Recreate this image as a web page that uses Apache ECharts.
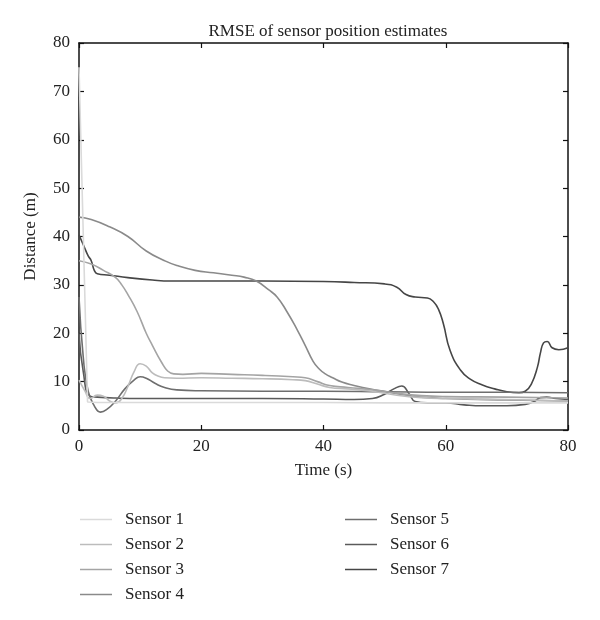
<!DOCTYPE html>
<html>
<head>
<meta charset="utf-8">
<script src="https://cdn.jsdelivr.net/npm/echarts@6/dist/echarts.min.js"></script>
<style>html,body{margin:0;padding:0;background:#fff;}#chart{width:600px;height:620px;}</style>
</head>
<body>
<div id="chart"></div>
<script>
const seriesNames = ['Sensor 1','Sensor 2','Sensor 3','Sensor 4','Sensor 5','Sensor 6','Sensor 7'];
const xTicks = [0, 20, 40, 60, 80];
const yTicks = [0, 10, 20, 30, 40, 50, 60, 70, 80];

const sensor1T = [0, 1.4, 3, 5, 10, 20, 30, 40, 50, 60, 70, 80];
const sensor1V = [75, 5.8, 5.7, 5.7, 5.7, 5.7, 5.7, 5.7, 5.6, 5.6, 5.6, 5.6];

const sensor2T = [0,1,1.8,3,4,5,6,7,8,9,10,11,12,13,14,16,20,25,30,35,37,39,41,44,48,52,56,60,70,80];
const sensor2V = [10.3,8,6.5,7.2,7,6,5.6,6.5,9,12,13.7,13.2,11.8,11.1,10.8,10.7,10.8,10.7,10.6,10.4,10.2,9.5,8.8,8.5,8,7.2,6.7,6.5,6.3,6.0];

const sensor3T = [0,2,4,6,7,8,9.5,11,12,13.5,14.5,15.5,17,20,25,30,35,37,39,41,44,48,52,56,60,70,80];
const sensor3V = [35,34.3,33,31.5,30,28,24.5,20,17.5,14,12.2,11.6,11.5,11.7,11.5,11.3,11,10.8,10,9.2,8.8,8.3,7.6,7.1,6.9,6.8,6.6];

const sensor4T = [0,2,5,8,11,14,16,19,22,25,27,29,31,32.4,34,35.7,37,38.3,39.3,40.3,41.5,43,45,47.5,50.4,53,56,60,70,80];
const sensor4V = [44,43.5,42,40,37,35,34,33,32.5,32,31.6,30.8,29,27.5,24.5,20.7,17.5,14.2,12.6,11.6,10.8,9.9,9.2,8.5,7.9,7.3,6.8,6.5,6.2,6.0];

const sensor5T = [0,0.7,1.5,2.5,3.5,4.5,6,7.5,9,10,11,12.5,14,16,20,30,40,50,60,70,80];
const sensor5V = [27.5,15,8,5,3.7,4.2,6,8.5,10.3,11,10.7,9.6,8.8,8.3,8.1,8,8,7.9,7.8,7.8,7.7];

const sensor6T = [0,0.7,1.8,3,6,10,20,30,40,45,48,50,51.5,52.8,54,55,57,60,63,66,70,73,74.5,75.5,76.5,78,80];
const sensor6V = [20,12,7,6.8,6.6,6.5,6.5,6.5,6.4,6.3,6.5,7.4,8.5,9.1,7.5,5.9,5.6,5.6,5.2,5,5,5.3,5.9,6.7,6.8,6.5,6.3];

const sensor7T = [0,0.8,1.5,2,2.5,3,5,8,12,15,20,30,40,45,50,52,53.5,55,57,58,58.8,59.6,60.7,62.4,64,66,68,70,72,73,74,75,75.5,76,76.6,77.4,78.5,80];
const sensor7V = [40.3,38,36,35,33,32.3,32,31.5,31,30.8,30.8,30.8,30.7,30.5,30.2,29.5,28,27.5,27.3,26.5,25,22,16.5,12.4,10.5,9.3,8.5,7.9,7.7,8,9.5,13,16,18,18.3,17,16.6,17];

const allT = [sensor1T, sensor2T, sensor3T, sensor4T, sensor5T, sensor6T, sensor7T];
const allV = [sensor1V, sensor2V, sensor3V, sensor4V, sensor5V, sensor6V, sensor7V];
const colors = ['#dadada', '#bcbcbc', '#a4a4a4', '#8a8a8a', '#6e6e6e', '#5a5a5a', '#464646'];

const FONT = '"Liberation Serif", "DejaVu Serif", serif';

const chart = echarts.init(document.getElementById('chart'), null, {renderer: 'canvas'});

const series = seriesNames.map((name, i) => ({
  name: name,
  type: 'line',
  xAxisIndex: 0,
  yAxisIndex: 0,
  symbol: 'none',
  showSymbol: false,
  smooth: i === 0 ? false : 0.5,
  lineStyle: {width: 1.6, color: colors[i]},
  itemStyle: {color: colors[i]},
  z: 10 - i,
  data: allT[i].map((t, k) => [t, allV[i][k]])
}));

const legendCommon = {
  orient: 'vertical',
  itemWidth: 32,
  itemHeight: 10,
  itemGap: 8,
  padding: 0,
  icon: 'path://M0,0 L32,0 L32,1.5 L0,1.5 Z',
  textStyle: {fontFamily: FONT, fontSize: 17, color: '#222', padding: [0, 0, 0, 8]},
  selectedMode: false
};

const axisLine = {show: true, onZero: false, lineStyle: {color: '#111', width: 1.5}};
const axisTickIn = {show: true, inside: true, length: 5, lineStyle: {color: '#111', width: 1.2}};

chart.setOption({
  animation: false,
  backgroundColor: '#fff',
  title: {
    text: 'RMSE of sensor position estimates',
    left: 323, top: 18, textAlign: 'center',
    textStyle: {fontFamily: FONT, fontSize: 17, fontWeight: 'normal', color: '#222'}
  },
  grid: {left: 79, right: 32, top: 43, bottom: 190, containLabel: false},
  legend: [
    Object.assign({left: 80, top: 511, data: seriesNames.slice(0, 4)}, legendCommon),
    Object.assign({left: 345, top: 511, data: seriesNames.slice(4)}, legendCommon)
  ],
  xAxis: [
    {
      type: 'value', min: xTicks[0], max: xTicks[xTicks.length - 1], interval: 20,
      position: 'bottom',
      name: 'Time (s)', nameLocation: 'middle', nameGap: 32,
      nameTextStyle: {fontFamily: FONT, fontSize: 17, color: '#222'},
      axisLine: axisLine, axisTick: axisTickIn,
      axisLabel: {fontFamily: FONT, fontSize: 17, color: '#222', margin: 8},
      splitLine: {show: false}
    },
    {
      type: 'value', min: xTicks[0], max: xTicks[xTicks.length - 1], interval: 20,
      position: 'top',
      axisLine: axisLine, axisTick: axisTickIn,
      axisLabel: {show: false}, splitLine: {show: false}
    }
  ],
  yAxis: [
    {
      type: 'value', min: yTicks[0], max: yTicks[yTicks.length - 1], interval: 10,
      position: 'left',
      name: 'Distance (m)', nameLocation: 'middle', nameGap: 40,
      nameTextStyle: {fontFamily: FONT, fontSize: 17, color: '#222'},
      axisLine: axisLine, axisTick: axisTickIn,
      axisLabel: {fontFamily: FONT, fontSize: 17, color: '#222', margin: 9},
      splitLine: {show: false}
    },
    {
      type: 'value', min: yTicks[0], max: yTicks[yTicks.length - 1], interval: 10,
      position: 'right',
      axisLine: axisLine, axisTick: axisTickIn,
      axisLabel: {show: false}, splitLine: {show: false}
    }
  ],
  series: series
});
</script>
</body>
</html>
